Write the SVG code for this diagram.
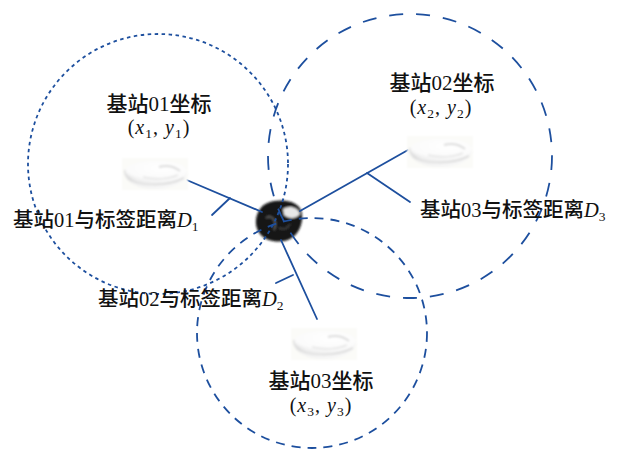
<svg xmlns="http://www.w3.org/2000/svg" width="624" height="452" viewBox="0 0 624 452">
  <style>
    .range { fill: none; stroke: #1d4f9e; stroke-width: 1.8; }
    .r1 { stroke-dasharray: 3.5 3.5; }
    .r2 { stroke-dasharray: 14 13; }
    .r3 { stroke-dasharray: 9 7; }
    .link { stroke: #1d4f9e; stroke-width: 1.8; fill: none; stroke-linecap: round; }
    .title { font-family: "Liberation Serif", "Noto Sans CJK SC", serif; font-size: 21px; font-weight: 500; fill: #111; text-anchor: middle; }
    .coord { font-family: "Liberation Serif", serif; font-size: 20px; fill: #111; text-anchor: middle; letter-spacing: 1px; }
    .dist { font-family: "Liberation Serif", "Noto Sans CJK SC", serif; font-size: 20.5px; font-weight: 500; fill: #111; }
    .it { font-style: italic; }
    .sub { font-size: 13.5px; }
  </style>
  <defs>
    <radialGradient id="puckTop" cx="0.6" cy="0.35" r="0.8">
      <stop offset="0" stop-color="#ffffff"/>
      <stop offset="0.7" stop-color="#fbfbfb"/>
      <stop offset="1" stop-color="#e8e8e8"/>
    </radialGradient>
    <linearGradient id="puckSide" x1="0" y1="0" x2="1" y2="0.4">
      <stop offset="0" stop-color="#d4d4d4"/>
      <stop offset="0.35" stop-color="#f0f0f0"/>
      <stop offset="1" stop-color="#f8f8f8"/>
    </linearGradient>
    <filter id="soft" x="-20%" y="-20%" width="140%" height="140%">
      <feGaussianBlur stdDeviation="0.9"/>
    </filter>
    <!-- ceiling-mounted base station puck -->
    <g id="puck" filter="url(#soft)">
      <rect x="-33" y="-16" width="66" height="32" fill="#fbfbf8"/>
      <path d="M-31,-4 C-31,10 -14,15 1,15 C18,15 32,9 32,-2 Z" fill="url(#puckSide)"/>
      <ellipse cx="1" cy="-3" rx="31" ry="10" fill="url(#puckTop)"/>
      <path d="M-27,4 C-18,12 12,13 29,4" fill="none" stroke="#d8d8d8" stroke-width="1.5"/>
      <path d="M4,-7 C12,-9 20,-7 25,-3" fill="none" stroke="#dcdcdc" stroke-width="2"/>
      <path d="M-12,3 C0,6 14,5 23,1" fill="none" stroke="#e4e4e4" stroke-width="1.4"/>
    </g>
  </defs>

  <rect width="624" height="452" fill="#ffffff"/>

  <!-- tag -->
  <g id="tag" filter="url(#soft)">
    <path d="M260,209 C265,199 291,197 299,207 C305,214 302,231 293,237 C285,244 267,243 260,234 C254,226 255,216 260,209 Z" fill="#141414"/>
    <path d="M283,209 C289,205 298,207 300,214 C296,219 289,219 284,215 Z" fill="#e8e8e8"/>
    <path d="M266,218 C272,214 278,222 274,230" fill="none" stroke="#555" stroke-width="2"/>
    <path d="M279,228 C284,230 288,228 290,224" fill="none" stroke="#444" stroke-width="1.5"/>
  </g>

  <!-- range circles -->
  <g id="ranges">
    <circle class="range r1" cx="158" cy="164" r="130"/>
    <circle class="range r2" cx="410" cy="156" r="142"/>
    <circle class="range r3" cx="312" cy="333" r="115"/>
  </g>

  <!-- connectors -->
  <g id="connectors">
    <line class="link" x1="182" y1="178" x2="262" y2="212"/>
    <line class="link" x1="300" y1="211" x2="408" y2="150"/>
    <line class="link" x1="281" y1="240" x2="317" y2="319"/>
    <line class="link" x1="230" y1="198" x2="212" y2="215"/>
    <line class="link" x1="367" y1="173" x2="410" y2="202"/>
    <line class="link" x1="293" y1="275" x2="276" y2="283"/>
  </g>

  <!-- base station 01 -->
  <g id="station01">
    <use href="#puck" x="155" y="174"/>
    <text class="title" x="159" y="111">基站01坐标</text>
    <text class="coord" x="159" y="134">(<tspan class="it">x</tspan><tspan class="sub" dy="4">1</tspan><tspan dy="-4">, </tspan><tspan class="it">y</tspan><tspan class="sub" dy="4">1</tspan><tspan dy="-4">)</tspan></text>
  </g>

  <!-- base station 02 -->
  <g id="station02">
    <use href="#puck" x="440" y="152"/>
    <text class="title" x="442" y="90">基站02坐标</text>
    <text class="coord" x="441" y="114">(<tspan class="it">x</tspan><tspan class="sub" dy="4">2</tspan><tspan dy="-4">, </tspan><tspan class="it">y</tspan><tspan class="sub" dy="4">2</tspan><tspan dy="-4">)</tspan></text>
  </g>

  <!-- base station 03 -->
  <g id="station03">
    <use href="#puck" x="324" y="344"/>
    <text class="title" x="321" y="388">基站03坐标</text>
    <text class="coord" x="321" y="412">(<tspan class="it">x</tspan><tspan class="sub" dy="4">3</tspan><tspan dy="-4">, </tspan><tspan class="it">y</tspan><tspan class="sub" dy="4">3</tspan><tspan dy="-4">)</tspan></text>
  </g>

  <!-- distance labels -->
  <g id="distance-labels">
    <text class="dist" x="13" y="227">基站01与标签距离<tspan class="it">D</tspan><tspan class="sub" dy="4">1</tspan></text>
    <text class="dist" x="98" y="306">基站02与标签距离<tspan class="it">D</tspan><tspan class="sub" dy="4">2</tspan></text>
    <text class="dist" x="420" y="217">基站03与标签距离<tspan class="it">D</tspan><tspan class="sub" dy="4">3</tspan></text>
  </g>
</svg>
